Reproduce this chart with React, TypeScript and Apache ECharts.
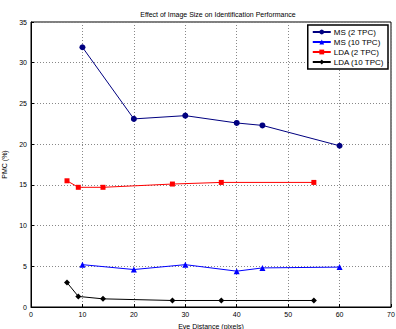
import React, { useEffect, useRef } from "react";
import * as echarts from "echarts";

const msX2 = [10, 20, 30, 40, 45, 60];
const ms2 = [31.9, 23.1, 23.5, 22.6, 22.3, 19.8];
const msX10 = [10, 20, 30, 40, 45, 60];
const ms10 = [5.2, 4.6, 5.2, 4.4, 4.8, 4.9];
const ldaX = [7, 9.2, 14, 27.5, 37, 55];
const lda2 = [15.5, 14.7, 14.7, 15.1, 15.3, 15.3];
const lda10 = [3.0, 1.3, 1.0, 0.8, 0.8, 0.8];

const pairs = (xs: number[], ys: number[]) => xs.map((x, i) => [x, ys[i]]);

export default function App() {
  const ref = useRef<HTMLDivElement>(null);
  useEffect(() => {
    const chart = echarts.init(ref.current!, null, { renderer: "svg" });
    const font = "Liberation Sans, Arial, sans-serif";
    const mk = (name: string, color: string, data: number[][], symbol: string, size: number) => ({
      name,
      type: "line",
      data,
      symbol,
      symbolSize: size,
      lineStyle: { color, width: 1 },
      itemStyle: { color },
    });
    chart.setOption({
      animation: false,
      backgroundColor: "#fff",
      title: {
        text: "Effect of Image Size on Identification Performance",
        left: 213,
        textAlign: "center",
        top: 6,
        textStyle: { fontSize: 7, fontWeight: "normal", color: "#000", fontFamily: font },
      },
      grid: {
        left: 31, right: 5, top: 22, bottom: 22,
        outerBoundsMode: "none",
        containLabel: false,
        show: true, borderColor: "#000", borderWidth: 1,
      },
      xAxis: {
        type: "value",
        min: 0,
        max: 70,
        interval: 10,
        name: "Eye Distance (pixels)",
        nameLocation: "middle",
        nameGap: 12,
        nameTextStyle: { fontSize: 7, color: "#000", fontFamily: font },
        axisLine: { show: true, lineStyle: { color: "#000" } },
        axisTick: { show: true, inside: true, length: 3, lineStyle: { color: "#000" } },
        axisLabel: { fontSize: 7, color: "#000", margin: 4, fontFamily: font },
        splitLine: { show: true, lineStyle: { color: "#888", type: [1, 2], width: 1 } },
      },
      yAxis: {
        type: "value",
        min: 0,
        max: 35,
        interval: 5,
        name: "PMC (%)",
        nameLocation: "middle",
        nameGap: 20,
        nameTextStyle: { fontSize: 7, color: "#000", fontFamily: font },
        axisLine: { show: true, lineStyle: { color: "#000" } },
        axisTick: { show: true, inside: true, length: 3, lineStyle: { color: "#000" } },
        axisLabel: { fontSize: 7, color: "#000", margin: 4, fontFamily: font },
        splitLine: { show: true, lineStyle: { color: "#888", type: [1, 2], width: 1 } },
      },
      legend: {
        orient: "vertical",
        right: 8,
        top: 25,
        backgroundColor: "#fff",
        borderColor: "#000",
        borderWidth: 1.5,
        borderRadius: 0,
        padding: [3, 4, 3, 4],
        itemGap: 2,
        itemWidth: 18,
        itemHeight: 6,
        textStyle: { fontSize: 8, color: "#000", fontFamily: font, padding: [0, 0, 0, -2] },
        data: ["MS (2 TPC)", "MS (10 TPC)", "LDA (2 TPC)", "LDA (10 TPC)"],
      },
      series: [
        mk("MS (2 TPC)", "#000080", pairs(msX2, ms2), "circle", 6),
        mk("MS (10 TPC)", "#0000ff", pairs(msX10, ms10), "triangle", 6),
        mk("LDA (2 TPC)", "#ff0000", pairs(ldaX, lda2), "rect", 5),
        mk("LDA (10 TPC)", "#000000", pairs(ldaX, lda10), "diamond", 6),
      ],
    });
    return () => chart.dispose();
  }, []);
  return <div ref={ref} style={{ position: "absolute", left: 0, top: 0, width: 396, height: 329 }} />;
}
